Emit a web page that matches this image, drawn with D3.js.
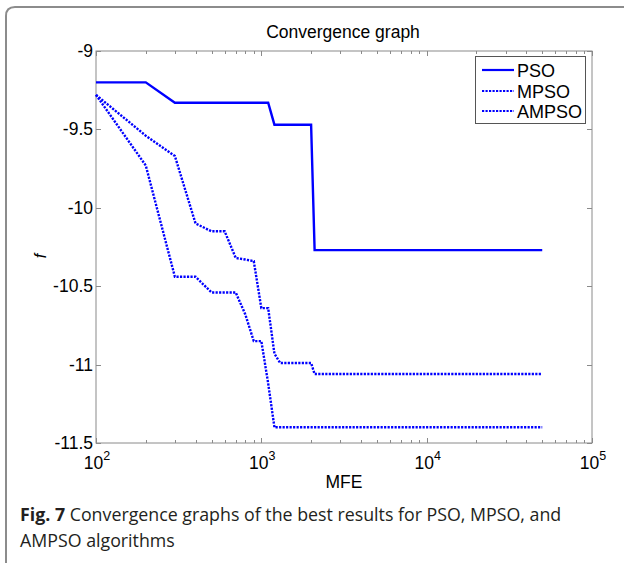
<!DOCTYPE html>
<html>
<head>
<meta charset="utf-8">
<script src="https://cdn.jsdelivr.net/npm/d3@7"></script>
<style>
  html, body { margin: 0; padding: 0; background: #fff; }
  svg { display: block; }
</style>
</head>
<body>
<script>
// ---- data ----
const seriesNames = ["PSO", "MPSO", "AMPSO"];
const psoMFE   = [100, 200, 300, 1100, 1200, 2000, 2100, 50000];
const psoF     = [-9.2, -9.2, -9.33, -9.33, -9.47, -9.47, -10.27, -10.27];
const mpsoMFE  = [100, 200, 300, 400, 500, 600, 700, 800, 900, 1000, 1100, 1200, 1300, 2000, 2100, 50000];
const mpsoF    = [-9.28, -9.54, -9.67, -10.1, -10.15, -10.15, -10.32, -10.33, -10.34, -10.64, -10.64, -10.93, -10.99, -10.99, -11.06, -11.06];
const ampsoMFE = [100, 200, 300, 400, 500, 600, 700, 800, 900, 1000, 1100, 1200, 50000];
const ampsoF   = [-9.28, -9.73, -10.44, -10.44, -10.54, -10.54, -10.54, -10.68, -10.85, -10.85, -11.12, -11.4, -11.4];
const yTicks = [-9, -9.5, -10, -10.5, -11, -11.5];
const yTickLabels = ["-9", "-9.5", "-10", "-10.5", "-11", "-11.5"];
const xTicks = [100, 1000, 10000, 100000];
const xTickExponents = ["2", "3", "4", "5"];
const titleText = "Convergence graph";
const xLabel = "MFE";
const yLabel = "f";
const captionBold = "Fig. 7";
const captionLine1 = " Convergence graphs of the best results for PSO, MPSO, and";
const captionLine2 = "AMPSO algorithms";

// ---- layout ----
const W = 624, H = 563;
const L = 96, R = 592, T = 51, B = 443;
const blue = "#0000ff";
const axisColor = "#8a8a8a";

const svg = d3.select("body").append("svg").attr("width", W).attr("height", H);
svg.append("rect").attr("width", W).attr("height", H).attr("fill", "#fff");

// outer frame (rounded top-left)
svg.append("path")
  .attr("d", `M6,${H + 5} V16 Q6,7 15,7 H${W + 5}`)
  .attr("fill", "none").attr("stroke", "#8c8c8c").attr("stroke-width", 2);

const x = d3.scaleLog().domain([100, 100000]).range([L, R]);
const y = d3.scaleLinear().domain([-11.5, -9]).range([B, T]);

const font = "'Liberation Sans', Arial, Helvetica, sans-serif";

// plot box
svg.append("rect").attr("x", L).attr("y", T).attr("width", R - L).attr("height", B - T)
  .attr("fill", "#fff").attr("stroke", axisColor).attr("stroke-width", 1);

// x ticks (major + minor), bottom and top, inward
const minor = [];
for (let k = 2; k <= 4; k++) for (let m = 2; m <= 9; m++) minor.push(m * Math.pow(10, k));
const tickG = svg.append("g").attr("stroke", axisColor).attr("stroke-width", 1);
xTicks.forEach(v => {
  const px = Math.round(x(v)) + 0.5;
  tickG.append("line").attr("x1", px).attr("x2", px).attr("y1", B).attr("y2", B - 5);
  tickG.append("line").attr("x1", px).attr("x2", px).attr("y1", T).attr("y2", T + 5);
});
minor.forEach(v => {
  const px = Math.round(x(v)) + 0.5;
  tickG.append("line").attr("x1", px).attr("x2", px).attr("y1", B).attr("y2", B - 3);
  tickG.append("line").attr("x1", px).attr("x2", px).attr("y1", T).attr("y2", T + 3);
});
yTicks.forEach(v => {
  const py = Math.round(y(v)) + 0.5;
  tickG.append("line").attr("x1", L).attr("x2", L + 5).attr("y1", py).attr("y2", py);
  tickG.append("line").attr("x1", R).attr("x2", R - 5).attr("y1", py).attr("y2", py);
});

// y tick labels
yTicks.forEach((v, i) => {
  svg.append("text").attr("x", L - 3).attr("y", y(v) + 6)
    .attr("text-anchor", "end").attr("font-family", font).attr("font-size", 17.5)
    .attr("fill", "#000").text(yTickLabels[i]);
});

// x tick labels 10^k
xTicks.forEach((v, i) => {
  const t = svg.append("text").attr("x", x(v) + 1).attr("y", 469)
    .attr("text-anchor", "middle").attr("font-family", font).attr("font-size", 17.5).attr("fill", "#000");
  t.append("tspan").text("10");
  t.append("tspan").attr("dy", -9).attr("font-size", 12.5).text(xTickExponents[i]);
});

// title and axis labels
svg.append("text").attr("x", 343).attr("y", 38).attr("text-anchor", "middle")
  .attr("font-family", font).attr("font-size", 17.5).attr("fill", "#000").text(titleText);
svg.append("text").attr("x", 344).attr("y", 488).attr("text-anchor", "middle")
  .attr("font-family", font).attr("font-size", 17.5).attr("fill", "#000").text(xLabel);
svg.append("text").attr("transform", `translate(46,256) rotate(-90)`).attr("text-anchor", "middle")
  .attr("font-family", font).attr("font-size", 16).attr("font-style", "italic").attr("fill", "#000").text(yLabel);

// lines
const line = d3.line().x(d => x(d[0])).y(d => y(d[1]));
const series = [
  { name: seriesNames[0], data: psoMFE.map((m, i) => [m, psoF[i]]), dash: null },
  { name: seriesNames[1], data: mpsoMFE.map((m, i) => [m, mpsoF[i]]), dash: "2.2,1.3" },
  { name: seriesNames[2], data: ampsoMFE.map((m, i) => [m, ampsoF[i]]), dash: "2.2,1.3" }
];
series.forEach(s => {
  svg.append("path").datum(s.data).attr("d", line)
    .attr("fill", "none").attr("stroke", blue).attr("stroke-width", 2.4)
    .attr("stroke-linejoin", "miter")
    .attr("stroke-dasharray", s.dash);
});

// legend
const lg = svg.append("g");
lg.append("rect").attr("x", 475.5).attr("y", 56.5).attr("width", 110).attr("height", 67)
  .attr("fill", "#fff").attr("stroke", "#555").attr("stroke-width", 1);
const legendY = [70, 91, 111];
series.forEach((s, i) => {
  lg.append("line").attr("x1", 482).attr("x2", 514).attr("y1", legendY[i]).attr("y2", legendY[i])
    .attr("stroke", blue).attr("stroke-width", 2.2).attr("stroke-dasharray", s.dash);
  lg.append("text").attr("x", 517).attr("y", legendY[i] + 6.5).attr("font-family", font)
    .attr("font-size", 18).attr("fill", "#000").text(s.name);
});

// caption
const capFont = "'Open Sans', 'Noto Sans', sans-serif";
const c1 = svg.append("text").attr("x", 20).attr("y", 521).attr("font-family", capFont)
  .attr("font-size", 17.8).attr("fill", "#231f20");
c1.append("tspan").attr("font-weight", "bold").text(captionBold);
c1.append("tspan").text(captionLine1);
svg.append("text").attr("x", 20).attr("y", 547).attr("font-family", capFont)
  .attr("font-size", 17.8).attr("fill", "#231f20").text(captionLine2);
</script>
</body>
</html>
